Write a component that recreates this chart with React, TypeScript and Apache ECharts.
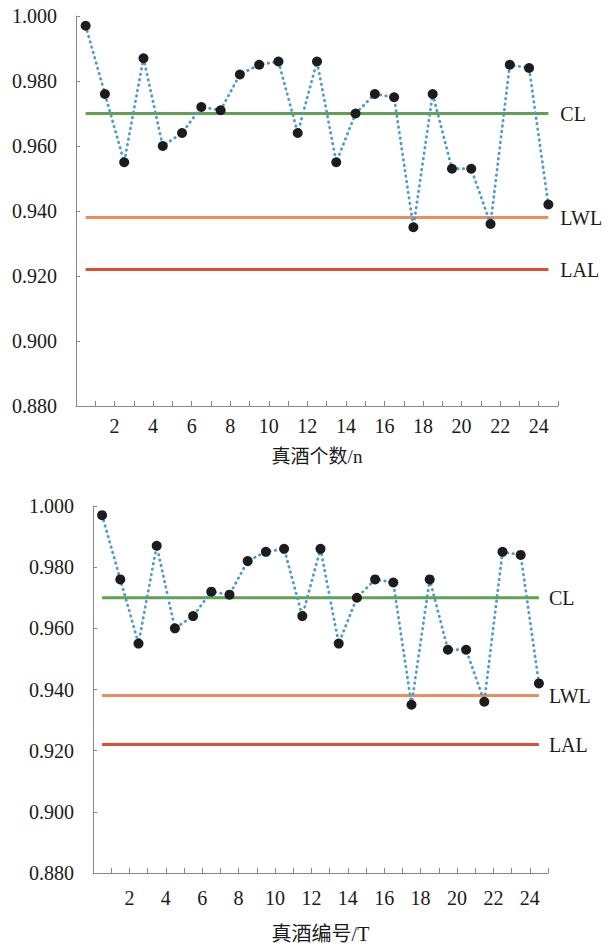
import React, { useEffect, useRef } from "react";
import * as echarts from "echarts";

// Sample positions (x = 0.5 ... 24.5 on a 0..25 axis)
const samplePositions = [
  0.5, 1.5, 2.5, 3.5, 4.5, 5.5, 6.5, 7.5, 8.5, 9.5, 10.5, 11.5, 12.5,
  13.5, 14.5, 15.5, 16.5, 17.5, 18.5, 19.5, 20.5, 21.5, 22.5, 23.5, 24.5,
];

// Top chart: 真酒个数/n
const topValues = [
  0.997, 0.976, 0.955, 0.987, 0.96, 0.964, 0.972, 0.971, 0.982, 0.985, 0.986,
  0.964, 0.986, 0.955, 0.97, 0.976, 0.975, 0.935, 0.976, 0.953, 0.953, 0.936,
  0.985, 0.984, 0.942,
];

// Bottom chart: 真酒编号/T
const bottomValues = [
  0.997, 0.976, 0.955, 0.987, 0.96, 0.964, 0.972, 0.971, 0.982, 0.985, 0.986,
  0.964, 0.986, 0.955, 0.97, 0.976, 0.975, 0.935, 0.976, 0.953, 0.953, 0.936,
  0.985, 0.984, 0.942,
];

// Control limits
const limitNames = ["CL", "LWL", "LAL"];
const limitValues = [0.97, 0.938, 0.922];
const limitColors = ["#62a14f", "#ec8d5c", "#df4f36"];
const lineSpan = [0.5, 24.5];

const xTitles = ["真酒个数/n", "真酒编号/T"];
const yMin = 0.88;
const yMax = 1.0;
const yStep = 0.02;
const xMin = 0;
const xMax = 25;

const serif = "'Liberation Serif', 'Times New Roman', serif";
const cjk = "'Liberation Serif', 'Noto Sans CJK SC', serif";
const axisColor = "#8e8585";
const textColor = "#1a1a1a";

export default function App() {
  const ref = useRef<HTMLDivElement>(null);

  useEffect(() => {
    if (!ref.current) return;
    const chart = echarts.init(ref.current, null, { renderer: "svg" });

    const grids = [
      { left: 76, top: 16, width: 482, height: 390 },
      { left: 93, top: 506, width: 455, height: 368 },
    ];
    const labelMargins = [10, 15];
    const nameGaps = [41, 51];
    const nameSizes = [19, 20];
    const endDistances = [12, 10];
    const seriesData = [topValues, bottomValues];

    const xAxes = grids.map((_, i) => ({
      type: "value",
      gridIndex: i,
      min: xMin,
      max: xMax,
      interval: 1,
      splitLine: { show: false },
      axisLine: { show: true, onZero: false, lineStyle: { color: axisColor, width: 1 } },
      axisTick: { show: true, inside: true, length: 5, lineStyle: { color: axisColor } },
      axisLabel: {
        margin: labelMargins[i],
        fontFamily: serif,
        fontSize: 20,
        color: textColor,
        formatter: (v: number) => (v > 0 && v < xMax && v % 2 === 0 ? String(v) : ""),
      },
      name: xTitles[i],
      nameLocation: "middle",
      nameGap: nameGaps[i],
      nameTextStyle: { fontFamily: cjk, fontSize: nameSizes[i], color: textColor },
    }));

    const yAxes = grids.map((_, i) => ({
      type: "value",
      gridIndex: i,
      min: yMin,
      max: yMax,
      interval: yStep,
      splitLine: { show: false },
      axisLine: { show: true, lineStyle: { color: axisColor, width: 1 } },
      axisTick: { show: true, inside: true, length: 4, lineStyle: { color: axisColor } },
      axisLabel: {
        margin: 19,
        fontFamily: serif,
        fontSize: 20,
        color: textColor,
        formatter: (v: number) => v.toFixed(3),
      },
    }));

    const series: any[] = [];
    grids.forEach((_, i) => {
      limitNames.forEach((nm, k) => {
        series.push({
          type: "line",
          name: nm,
          xAxisIndex: i,
          yAxisIndex: i,
          symbol: "none",
          z: 2,
          data: lineSpan.map((x) => [x, limitValues[k]]),
          lineStyle: { color: limitColors[k], width: 3 },
          endLabel: {
            show: true,
            formatter: nm,
            distance: endDistances[i],
            fontFamily: serif,
            fontSize: 20,
            color: textColor,
          },
          silent: true,
        });
      });
      series.push({
        type: "line",
        name: "sample" + i,
        xAxisIndex: i,
        yAxisIndex: i,
        z: 5,
        data: samplePositions.map((x, j) => [x, seriesData[i][j]]),
        symbol: "circle",
        symbolSize: 10,
        itemStyle: { color: "#1c1c1c", borderWidth: 0 },
        lineStyle: { color: "#4f9bd0", width: 2.8, type: [0.5, 5], cap: "round" },
      });
    });

    chart.setOption({
      animation: false,
      backgroundColor: "#ffffff",
      grid: grids,
      xAxis: xAxes,
      yAxis: yAxes,
      series,
    });

    return () => chart.dispose();
  }, []);

  return (
    <div
      ref={ref}
      style={{ position: "fixed", left: 0, top: 0, width: 610, height: 945, background: "#fff" }}
    />
  );
}
